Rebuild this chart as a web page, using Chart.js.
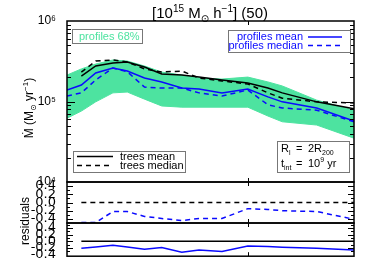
<!DOCTYPE html>
<html>
<head>
<meta charset="utf-8">
<title>Mdot profiles vs trees</title>
<script src="https://cdn.jsdelivr.net/npm/chart.js@4.4.1/dist/chart.umd.min.js"></script>
<style>
  body { margin: 0; background: #fff; }
  #wrap { position: relative; width: 374px; height: 267px; overflow: hidden; }
  #wrap canvas { position: absolute; left: 0; top: 0; }
</style>
</head>
<body>
<div id="wrap">
  <canvas id="mainChart" width="374" height="267"></canvas>
  <canvas id="res1Chart" width="374" height="267"></canvas>
  <canvas id="res2Chart" width="374" height="267"></canvas>
</div>
<script>
// x positions of the points (axis labels are not visible in the figure)
const xPos = [0.00, 0.05, 0.10, 0.16, 0.21, 0.27, 0.33, 0.40, 0.46, 0.54, 0.63, 0.70, 0.75, 0.87, 1.00];

// Mdot values (Msun / yr)
const bandLow     = [6.2e4, 7.6e4, 9.9e4, 1.28e5, 1.31e5, 1.07e5, 8.8e4, 8.5e4, 8.5e4, 8.5e4, 8.5e4, 6.6e4, 5.6e4, 5.1e4, 3.5e4];
const bandHigh    = [2.13e5, 2.54e5, 2.92e5, 3.28e5, 3.18e5, 2.76e5, 2.32e5, 2.13e5, 1.96e5, 1.90e5, 2.01e5, 1.75e5, 1.56e5, 1.04e5, 7.8e4];
const profMean    = [1.39e5, 1.60e5, 2.26e5, 2.61e5, 2.39e5, 1.96e5, 1.75e5, 1.47e5, 1.43e5, 1.28e5, 1.43e5, 1.14e5, 9.9e4, 8.3e4, 5.7e4];
const profMedian  = [1.17e5, 1.28e5, 1.85e5, 2.61e5, 2.35e5, 1.51e5, 1.47e5, 1.47e5, 1.28e5, 1.17e5, 1.39e5, 9.1e4, 8.3e4, 7.8e4, 5.6e4];
const treesMean   = [null, 2.07e5, 2.76e5, 3.00e5, 3.10e5, 2.68e5, 2.20e5, 2.13e5, 2.01e5, 1.85e5, 1.70e5, 1.47e5, 1.28e5, 9.9e4, 8.1e4];
const treesMedian = [null, 2.32e5, 3.18e5, 3.28e5, 3.10e5, 2.54e5, 2.32e5, 2.39e5, 1.96e5, 1.80e5, 1.65e5, 1.28e5, 1.10e5, 9.9e4, 9.6e4];

// residuals
const resZero   = [null, 0, 0, 0, 0, 0, 0, 0, 0, 0, 0, 0, 0, 0, 0];
const resMedian = [null, -0.49, -0.49, -0.22, -0.22, -0.34, -0.39, -0.44, -0.39, -0.39, -0.15, -0.17, -0.20, -0.22, -0.41];
const resMean   = [null, -0.21, -0.17, -0.12, -0.17, -0.24, -0.19, -0.33, -0.26, -0.31, -0.14, -0.16, -0.18, -0.21, -0.26];

// ticks
const mainTicks = [1e4, 1e5, 1e6];
const mainTickLabels = ['10⁴', '10⁵', '10⁶'];
const resTicks = [-0.4, -0.2, 0.0, 0.2, 0.4];
const xMajorTicks = [0.63];

const FONT = "'Liberation Sans', 'DejaVu Sans', sans-serif";
const GREEN = '#4de3a0';
const BLUE = '#0a0aff';

const pts = ys => xPos.map((x, i) => ({ x: x, y: ys[i] }));

// text with sub/superscripts
function richWidth(ctx, segs, size) {
    let w = 0;
    segs.forEach(s => {
        ctx.font = (s.k ? Math.round(size * 0.65) : size) + 'px ' + FONT;
        w += ctx.measureText(s.t).width;
    });
    return w;
}
function drawRich(ctx, segs, x, y, size, align) {
    const w = richWidth(ctx, segs, size);
    let cx = align === 'center' ? x - w / 2 : (align === 'right' ? x - w : x);
    ctx.textAlign = 'left';
    ctx.textBaseline = 'alphabetic';
    segs.forEach(s => {
        const sz = s.k ? Math.round(size * 0.65) : size;
        ctx.font = sz + 'px ' + FONT;
        const dy = s.k === 'sup' ? -size * 0.42 : (s.k === 'sub' ? size * 0.25 : 0);
        ctx.fillText(s.t, cx, y + dy);
        cx += ctx.measureText(s.t).width;
    });
}

function line(ctx, x1, y1, x2, y2) {
    ctx.beginPath();
    ctx.moveTo(x1, y1);
    ctx.lineTo(x2, y2);
    ctx.stroke();
}

// frame with inward ticks
function drawFrame(chart, yTicks) {
    const { ctx, chartArea: a, scales } = chart;
    ctx.save();
    ctx.strokeStyle = '#000';
    ctx.lineWidth = 1;
    yTicks.forEach(t => {
        const py = Math.round(scales.y.getPixelForValue(t.v)) + 0.5;
        if (py < a.top + 1 || py > a.bottom - 1) return;
        line(ctx, a.left, py, a.left + t.len, py);
        line(ctx, a.right, py, a.right - t.len, py);
    });
    xMajorTicks.forEach(v => {
        const px = Math.round(scales.x.getPixelForValue(v)) + 0.5;
        line(ctx, px, a.top, px, a.top + 4);
        line(ctx, px, a.bottom, px, a.bottom - 4);
    });
    ctx.lineWidth = 1.5;
    ctx.strokeRect(a.left, a.top, a.right - a.left, a.bottom - a.top);
    ctx.restore();
}

function legendBox(ctx, x1, y1, x2, y2) {
    ctx.save();
    ctx.strokeStyle = '#777';
    ctx.lineWidth = 1;
    ctx.strokeRect(x1 + 0.5, y1 + 0.5, x2 - x1, y2 - y1);
    ctx.restore();
}

function sample(ctx, x1, x2, y, color, dash) {
    ctx.save();
    ctx.strokeStyle = color;
    ctx.lineWidth = 1.5;
    ctx.setLineDash(dash || []);
    line(ctx, x1, y, x2, y);
    ctx.restore();
}

function baseOptions(padTop, padBottom, yScale) {
    return {
        responsive: false,
        animation: false,
        devicePixelRatio: 1,
        layout: { padding: { top: padTop, bottom: padBottom, left: 0, right: 20 } },
        elements: { point: { radius: 0 }, line: { tension: 0, borderWidth: 1.5 } },
        plugins: { legend: { display: false }, tooltip: { enabled: false } },
        scales: {
            x: { type: 'linear', min: 0, max: 1, display: false },
            y: yScale
        }
    };
}

// main panel
const mainDecor = {
    id: 'mainDecor',
    afterDraw(chart) {
        const ctx = chart.ctx;
        const yt = [];
        [4, 5].forEach(n => {
            for (let k = 1; k <= 9; k++) yt.push({ v: k * Math.pow(10, n), len: k === 1 ? 8 : 4 });
        });
        drawFrame(chart, yt);

        ctx.save();
        ctx.fillStyle = '#000';
        // title
        drawRich(ctx, [{ t: '[10' }, { t: '15', k: 'sup' }, { t: ' M' }, { t: '⊙', k: 'sub' },
                       { t: ' h' }, { t: '−1', k: 'sup' }, { t: '] (50)' }], 210, 18, 15, 'center');
        // y label
        ctx.translate(33, 108);
        ctx.rotate(-Math.PI / 2);
        drawRich(ctx, [{ t: 'Ṁ (M' }, { t: '⊙', k: 'sub' }, { t: ' yr' }, { t: '−1', k: 'sup' }, { t: ')' }],
                 0, 0, 12, 'center');
        ctx.restore();

        ctx.save();
        // profiles 68%
        legendBox(ctx, 72, 29, 142, 43);
        ctx.fillStyle = GREEN;
        ctx.font = '11px ' + FONT;
        ctx.textBaseline = 'middle';
        ctx.textAlign = 'left';
        ctx.fillText('profiles 68%', 79, 36.5);

        // profiles mean / median
        legendBox(ctx, 228, 30, 350, 52);
        ctx.fillStyle = BLUE;
        ctx.textAlign = 'right';
        ctx.fillText('profiles mean', 303, 37);
        ctx.fillText('profiles median', 303, 45.5);
        sample(ctx, 308, 342, 37, BLUE);
        sample(ctx, 308, 342, 45.5, BLUE, [5, 4]);

        // trees mean / median
        legendBox(ctx, 73, 151, 185, 172);
        ctx.fillStyle = '#000';
        ctx.textAlign = 'left';
        ctx.fillText('trees mean', 120, 156.5);
        ctx.fillText('trees median', 120, 165.5);
        sample(ctx, 77, 113, 156.5, '#000');
        sample(ctx, 77, 113, 165.5, '#000', [5, 4]);

        // R_l, t_int
        legendBox(ctx, 277, 141, 349, 172);
        ctx.fillStyle = '#000';
        drawRich(ctx, [{ t: 'R' }, { t: 'l', k: 'sub' }], 281, 152, 11, 'left');
        drawRich(ctx, [{ t: '=' }], 296, 152, 11, 'left');
        drawRich(ctx, [{ t: '2R' }, { t: '200', k: 'sub' }], 308, 152, 11, 'left');
        drawRich(ctx, [{ t: 't' }, { t: 'int', k: 'sub' }], 281, 167, 11, 'left');
        drawRich(ctx, [{ t: '=' }], 296, 167, 11, 'left');
        drawRich(ctx, [{ t: '10' }, { t: '9', k: 'sup' }, { t: ' yr' }], 308, 167, 11, 'left');
        ctx.restore();
    }
};

new Chart(document.getElementById('mainChart'), {
    type: 'line',
    data: {
        datasets: [
            { label: 'profiles mean', data: pts(profMean), borderColor: BLUE, fill: false },
            { label: 'profiles median', data: pts(profMedian), borderColor: BLUE, borderDash: [5, 4], fill: false },
            { label: 'trees mean', data: pts(treesMean), borderColor: '#000', fill: false },
            { label: 'trees median', data: pts(treesMedian), borderColor: '#000', borderDash: [5, 4], fill: false },
            { label: 'profiles 16%', data: pts(bandLow), borderColor: GREEN, borderWidth: 1, fill: false },
            { label: 'profiles 84%', data: pts(bandHigh), borderColor: GREEN, borderWidth: 1,
              backgroundColor: GREEN, fill: '-1' }
        ]
    },
    options: baseOptions(21, 85, {
        type: 'logarithmic',
        min: 1e4,
        max: 1e6,
        grid: { display: false },
        border: { display: false },
        afterBuildTicks: s => { s.ticks = mainTicks.map(v => ({ value: v })); },
        afterFit: s => { s.width = 67; },
        ticks: {
            autoSkip: false,
            padding: 3,
            color: '#000',
            font: { family: FONT, size: 12 },
            callback: v => {
                const i = mainTicks.indexOf(v);
                return i >= 0 ? mainTickLabels[i] : '';
            }
        }
    }),
    plugins: [mainDecor]
});

// residual panels
function resTickList(min, max) {
    const out = [];
    for (let i = Math.ceil(min * 10); i <= Math.floor(max * 10); i++) {
        out.push({ v: i / 10, len: i % 2 === 0 ? 6 : 3 });
    }
    return out;
}

function resScale(min, max) {
    return {
        type: 'linear',
        min: min,
        max: max,
        grid: { display: false },
        border: { display: false },
        afterBuildTicks: s => { s.ticks = resTicks.map(v => ({ value: v })); },
        afterFit: s => { s.width = 67; },
        ticks: {
            autoSkip: false,
            padding: 3,
            color: '#000',
            font: { family: "'DejaVu Sans', sans-serif", size: 13 },
            callback: v => v.toFixed(1)
        }
    };
}

new Chart(document.getElementById('res1Chart'), {
    type: 'line',
    data: {
        datasets: [
            { label: 'profiles median', data: pts(resMedian), borderColor: BLUE, borderDash: [5, 4], fill: false },
            { label: 'trees median', data: pts(resZero), borderColor: '#000', borderDash: [5, 4], fill: false }
        ]
    },
    options: baseOptions(182, 44, resScale(-0.5, 0.5)),
    plugins: [{
        id: 'res1Decor',
        afterDraw(chart) { drawFrame(chart, resTickList(-0.5, 0.5)); }
    }]
});

new Chart(document.getElementById('res2Chart'), {
    type: 'line',
    data: {
        datasets: [
            { label: 'profiles mean', data: pts(resMean), borderColor: BLUE, fill: false },
            { label: 'trees mean', data: pts(resZero), borderColor: '#000', fill: false }
        ]
    },
    options: baseOptions(223, 2, resScale(-0.45, 0.55)),
    plugins: [{
        id: 'res2Decor',
        afterDraw(chart) {
            drawFrame(chart, resTickList(-0.45, 0.55));
            const ctx = chart.ctx;
            ctx.save();
            ctx.fillStyle = '#000';
            ctx.translate(29, 221);
            ctx.rotate(-Math.PI / 2);
            ctx.font = '12px ' + FONT;
            ctx.textAlign = 'center';
            ctx.textBaseline = 'alphabetic';
            ctx.fillText('residuals', 0, 0);
            ctx.restore();
        }
    }]
});
</script>
</body>
</html>
